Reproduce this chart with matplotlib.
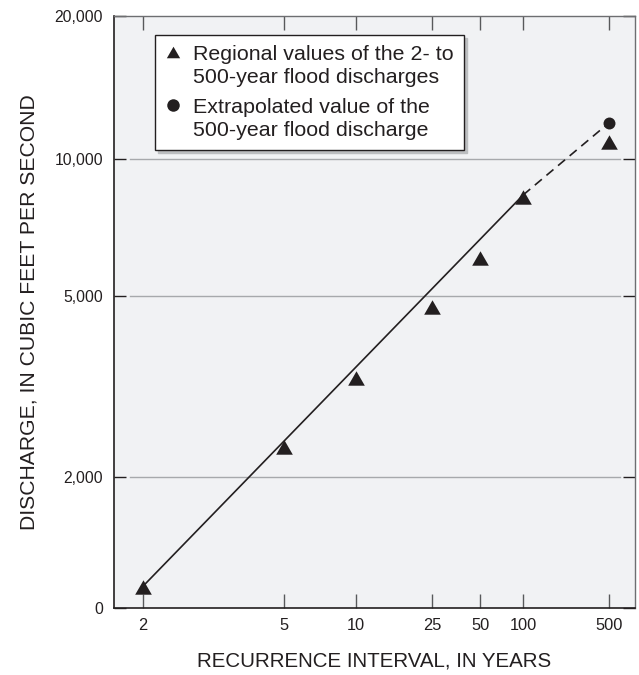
import numpy as np
import matplotlib
matplotlib.use("Agg")
import matplotlib.pyplot as plt
from matplotlib.scale import FuncScale
from matplotlib.ticker import NullLocator, FixedLocator, FixedFormatter
from matplotlib.legend_handler import HandlerLine2D
from statistics import NormalDist

# ---------------- data ----------------
recurrence_years = [2, 5, 10, 25, 50, 100, 500]
regional_discharge = [1146, 2328, 3300, 4727, 6060, 8250, 10900]

extrap_years = [500]
extrap_discharge = [12000]

fit_years = [2, 100]
fit_discharge = [1150, 8330]
extrap_line_years = [100, 500]
extrap_line_discharge = [8330, 12000]

x_ticks = [2, 5, 10, 25, 50, 100, 500]
x_tick_labels = ["2", "5", "10", "25", "50", "100", "500"]
y_ticks = [1030, 2000, 5000, 10000, 20600]
y_tick_labels = ["0", "2,000", "5,000", "10,000", "20,000"]
grid_values = [2000, 5000, 10000]

label_regional = "Regional values of the 2- to\n500-year flood discharges"
label_extrap = "Extrapolated value of the\n500-year flood discharge"

# ---------------- probability (Pearson III, Wilson-Hilferty) scale ----------------
SKEW = -0.1
_nd = NormalDist()
_inv = np.vectorize(_nd.inv_cdf, otypes=[float])
_cdf = np.vectorize(_nd.cdf, otypes=[float])


def freq_factor(T):
    T = np.clip(np.asarray(T, dtype=float), 1.00001, 1e7)
    z = _inv(1.0 - 1.0 / T)
    g = SKEW
    return (2.0 / g) * ((1.0 + g * z / 6.0 - g * g / 36.0) ** 3 - 1.0)


def inv_freq_factor(K):
    K = np.asarray(K, dtype=float)
    g = SKEW
    base = np.cbrt(1.0 + K * g / 2.0)
    z = (base - 1.0 + g * g / 36.0) * 6.0 / g
    p = np.clip(_cdf(z), 0.0, 1.0 - 1e-12)
    return 1.0 / (1.0 - p)


# ---------------- styling ----------------
INK = "#231f20"
plt.rcParams["font.family"] = ["Liberation Sans", "DejaVu Sans"]
plt.rcParams["text.color"] = INK

fig = plt.figure(figsize=(6.39, 6.75), dpi=100)
ax = fig.add_axes([0.1784, 0.0993, 0.8153, 0.8770])
ax.set_facecolor("#f1f2f4")

ax.set_xscale(FuncScale(ax, (freq_factor, inv_freq_factor)))
ax.set_yscale("log")

# grid lines (inset from the spines like the original)
for v in grid_values:
    ax.axhline(v, xmin=0.031, xmax=0.971, color="#a7a9ac", lw=1.0, zorder=1)

# fitted line and extrapolation
ax.plot(fit_years, fit_discharge, color=INK, lw=1.2, zorder=2, solid_capstyle="butt")
ax.plot(extrap_line_years, extrap_line_discharge, color=INK, lw=1.2,
        dashes=(5.5, 3.6), zorder=2)

tri = [(-1.0, -0.866), (1.0, -0.866), (0.0, 0.866)]
h_tri, = ax.plot(recurrence_years, regional_discharge, linestyle="None",
                 marker=tri, markersize=12.0, color=INK, markeredgewidth=0,
                 zorder=3, label=label_regional)
h_dot, = ax.plot(extrap_years, extrap_discharge, linestyle="None",
                 marker="o", markersize=8.6, color=INK, markeredgewidth=0,
                 zorder=3, label=label_extrap)

ax.set_xlim(inv_freq_factor(-0.154), inv_freq_factor(2.91))
ax.set_ylim(y_ticks[0], y_ticks[-1])

ax.xaxis.set_major_locator(FixedLocator(x_ticks))
ax.xaxis.set_major_formatter(FixedFormatter(x_tick_labels))
ax.xaxis.set_minor_locator(NullLocator())
ax.yaxis.set_major_locator(FixedLocator(y_ticks))
ax.yaxis.set_major_formatter(FixedFormatter(y_tick_labels))
ax.yaxis.set_minor_locator(NullLocator())

ax.tick_params(axis="x", which="major", direction="in", length=10, width=1.0,
               top=True, color="#58595b", labelsize=11.8, pad=7.5, labelcolor=INK)
ax.tick_params(axis="y", which="major", direction="in", length=8.5, width=1.0,
               right=True, color=INK, labelsize=11.3, pad=8, labelcolor=INK)

for side in ("left", "bottom"):
    ax.spines[side].set_color(INK)
    ax.spines[side].set_linewidth(1.2)
for side in ("top", "right"):
    ax.spines[side].set_color("#6d6e71")
    ax.spines[side].set_linewidth(1.0)

ax.set_xlabel("RECURRENCE INTERVAL, IN YEARS", fontsize=14.8, labelpad=13, color=INK)
ax.set_ylabel("DISCHARGE, IN CUBIC FEET PER SECOND", fontsize=15.2, labelpad=11, color=INK)

LEG_LINESPACING = 1.3


class TopAlignedHandler(HandlerLine2D):
    def __init__(self, size, **kw):
        super().__init__(**kw)
        self._size = size

    def create_artists(self, legend, orig_handle, xdescent, ydescent, width,
                       height, fontsize, trans):
        artists = super().create_artists(legend, orig_handle, xdescent, ydescent,
                                         width, height, fontsize, trans)
        for a in artists:
            a.set_ydata(np.asarray(a.get_ydata(), dtype=float)
                        + 0.5 * LEG_LINESPACING * fontsize)
            a.set_markersize(self._size)
        return artists


leg = ax.legend(handles=[h_tri, h_dot], loc="upper left",
                bbox_to_anchor=(0.0787, 0.968), borderaxespad=0.0,
                fontsize=15.4, frameon=True, fancybox=False,
                shadow={"color": "#bcbec0", "alpha": 1.0},
                edgecolor=INK, facecolor="white", framealpha=1.0,
                handlelength=0.8, handletextpad=0.55, labelspacing=0.5,
                borderpad=0.45,
                handler_map={h_tri: TopAlignedHandler(9.6),
                             h_dot: TopAlignedHandler(9.0)})
for t in leg.get_texts():
    t.set_linespacing(LEG_LINESPACING)
leg.get_frame().set_linewidth(1.0)
leg.set_zorder(5)

fig.savefig("out.png", dpi=100)
